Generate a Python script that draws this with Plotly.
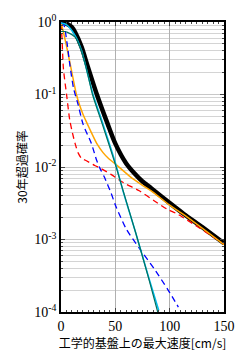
import plotly.graph_objects as go

# ---- data ----
total_x = [0, 5, 10, 13, 19, 24, 33, 43, 50, 60, 67.5, 75, 83, 101, 113, 130, 150]
total_p = [1.0, 0.95, 0.85, 0.72, 0.45, 0.26, 0.10, 0.039, 0.021, 0.0112, 0.0082, 0.0063, 0.0051, 0.0031, 0.00225, 0.00148, 0.00089]

orange_x = [0, 2, 4, 6, 8.5, 11, 14.2, 17, 20.3, 24, 27, 33, 38.7, 44, 49.4, 63, 75, 83, 101, 113, 150]
orange_p = [1.0, 0.75, 0.55, 0.4, 0.26, 0.17, 0.1, 0.072, 0.053, 0.04, 0.032, 0.021, 0.0158, 0.013, 0.0112, 0.0075, 0.0056, 0.0047, 0.0029, 0.0022, 0.00085]

cyan_x = [0, 5, 13, 19, 25, 29.5, 38.7, 50, 57, 69, 81, 90]
cyan_p = [0.97, 0.92, 0.65, 0.4, 0.18, 0.1, 0.039, 0.0115, 0.0047, 0.0012, 0.00029, 0.000105]

teal_x = [0, 3, 6, 13, 19, 25, 29, 38, 49.5, 57, 69, 81, 89]
teal_p = [0.74, 0.74, 0.72, 0.62, 0.39, 0.18, 0.1, 0.039, 0.0115, 0.0048, 0.0012, 0.00028, 0.0001]

blue_x = [0, 2.4, 5.5, 8.2, 11.5, 15.7, 20.3, 28, 32.7, 36, 40, 46, 50, 60, 72, 87, 99, 108]
blue_p = [0.97, 0.93, 0.52, 0.254, 0.123, 0.073, 0.039, 0.021, 0.0125, 0.0095, 0.0072, 0.0044, 0.003, 0.0014, 0.00076, 0.00037, 0.000196, 0.000117]

red_x = [0, 0.5, 0.9, 2.2, 5.3, 8, 10, 13, 16, 19, 22, 31, 37, 46, 55, 60, 72, 86, 98, 107, 150]
red_p = [0.95, 0.75, 0.61, 0.23, 0.095, 0.045, 0.032, 0.021, 0.0154, 0.0131, 0.0125, 0.0105, 0.0095, 0.0079, 0.0064, 0.0058, 0.0047, 0.0034, 0.0026, 0.00225, 0.00086]

x_tickvals = [0, 50, 100, 150]
y_tickvals = [1, 0.1, 0.01, 0.001, 0.0001]
y_ticktext = ["10<sup>0</sup>", "10<sup>-1</sup>", "10<sup>-2</sup>", "10<sup>-3</sup>", "10<sup>-4</sup>"]

x_title = "工学的基盤上の最大速度[cm/s]"
y_title = "30年超過確率"

fig = go.Figure()
sm = 0.7
fig.add_trace(go.Scatter(x=total_x, y=total_p, mode="lines", line=dict(color="black", width=4.5, shape="spline", smoothing=sm)))
fig.add_trace(go.Scatter(x=red_x, y=red_p, mode="lines", line=dict(color="#ff0000", width=1.3, dash="6px,4px", shape="spline", smoothing=sm)))
fig.add_trace(go.Scatter(x=orange_x, y=orange_p, mode="lines", line=dict(color="#ffa500", width=1.5, shape="spline", smoothing=sm)))
fig.add_trace(go.Scatter(x=blue_x, y=blue_p, mode="lines", line=dict(color="#0000ff", width=1.3, dash="6px,4px", shape="spline", smoothing=sm)))
fig.add_trace(go.Scatter(x=cyan_x, y=cyan_p, mode="lines", line=dict(color="#00bfef", width=1.5, shape="spline", smoothing=sm)))
fig.add_trace(go.Scatter(x=teal_x, y=teal_p, mode="lines", line=dict(color="#007060", width=1.2, shape="spline", smoothing=sm)))

font = "Liberation Serif"
fig.update_layout(
    width=247, height=357,
    margin=dict(l=61, r=21, t=16, b=45),
    plot_bgcolor="white", paper_bgcolor="white",
    showlegend=False,
    font=dict(family=font, size=12, color="black"),
)
fig.update_xaxes(
    range=[0, 150], tickvals=x_tickvals, ticks="inside", ticklen=4,
    showgrid=True, gridcolor="#b0b0b0", gridwidth=1,
    showline=True, linecolor="black", linewidth=1.5, mirror="ticks",
    minor=dict(dtick=5, ticks="inside", ticklen=2, showgrid=False),
    zeroline=False,
    title=dict(text=x_title, font=dict(family="Noto Sans CJK JP", size=12), standoff=2),
    tickfont=dict(family=font, size=14),
)
fig.update_yaxes(
    type="log", range=[-4, 0], tickvals=y_tickvals, ticktext=y_ticktext,
    ticks="inside", ticklen=4,
    showgrid=True, gridcolor="#c8c8c8", gridwidth=1,
    showline=True, linecolor="black", linewidth=1.5, mirror="ticks",
    minor=dict(dtick="D1", ticks="inside", ticklen=2, showgrid=True, gridcolor="#d4d4d4"),
    zeroline=False,
    title=dict(text=y_title, font=dict(family="Noto Sans CJK JP", size=12), standoff=4),
    tickfont=dict(family=font, size=14),
)
fig.write_html("out.html")
